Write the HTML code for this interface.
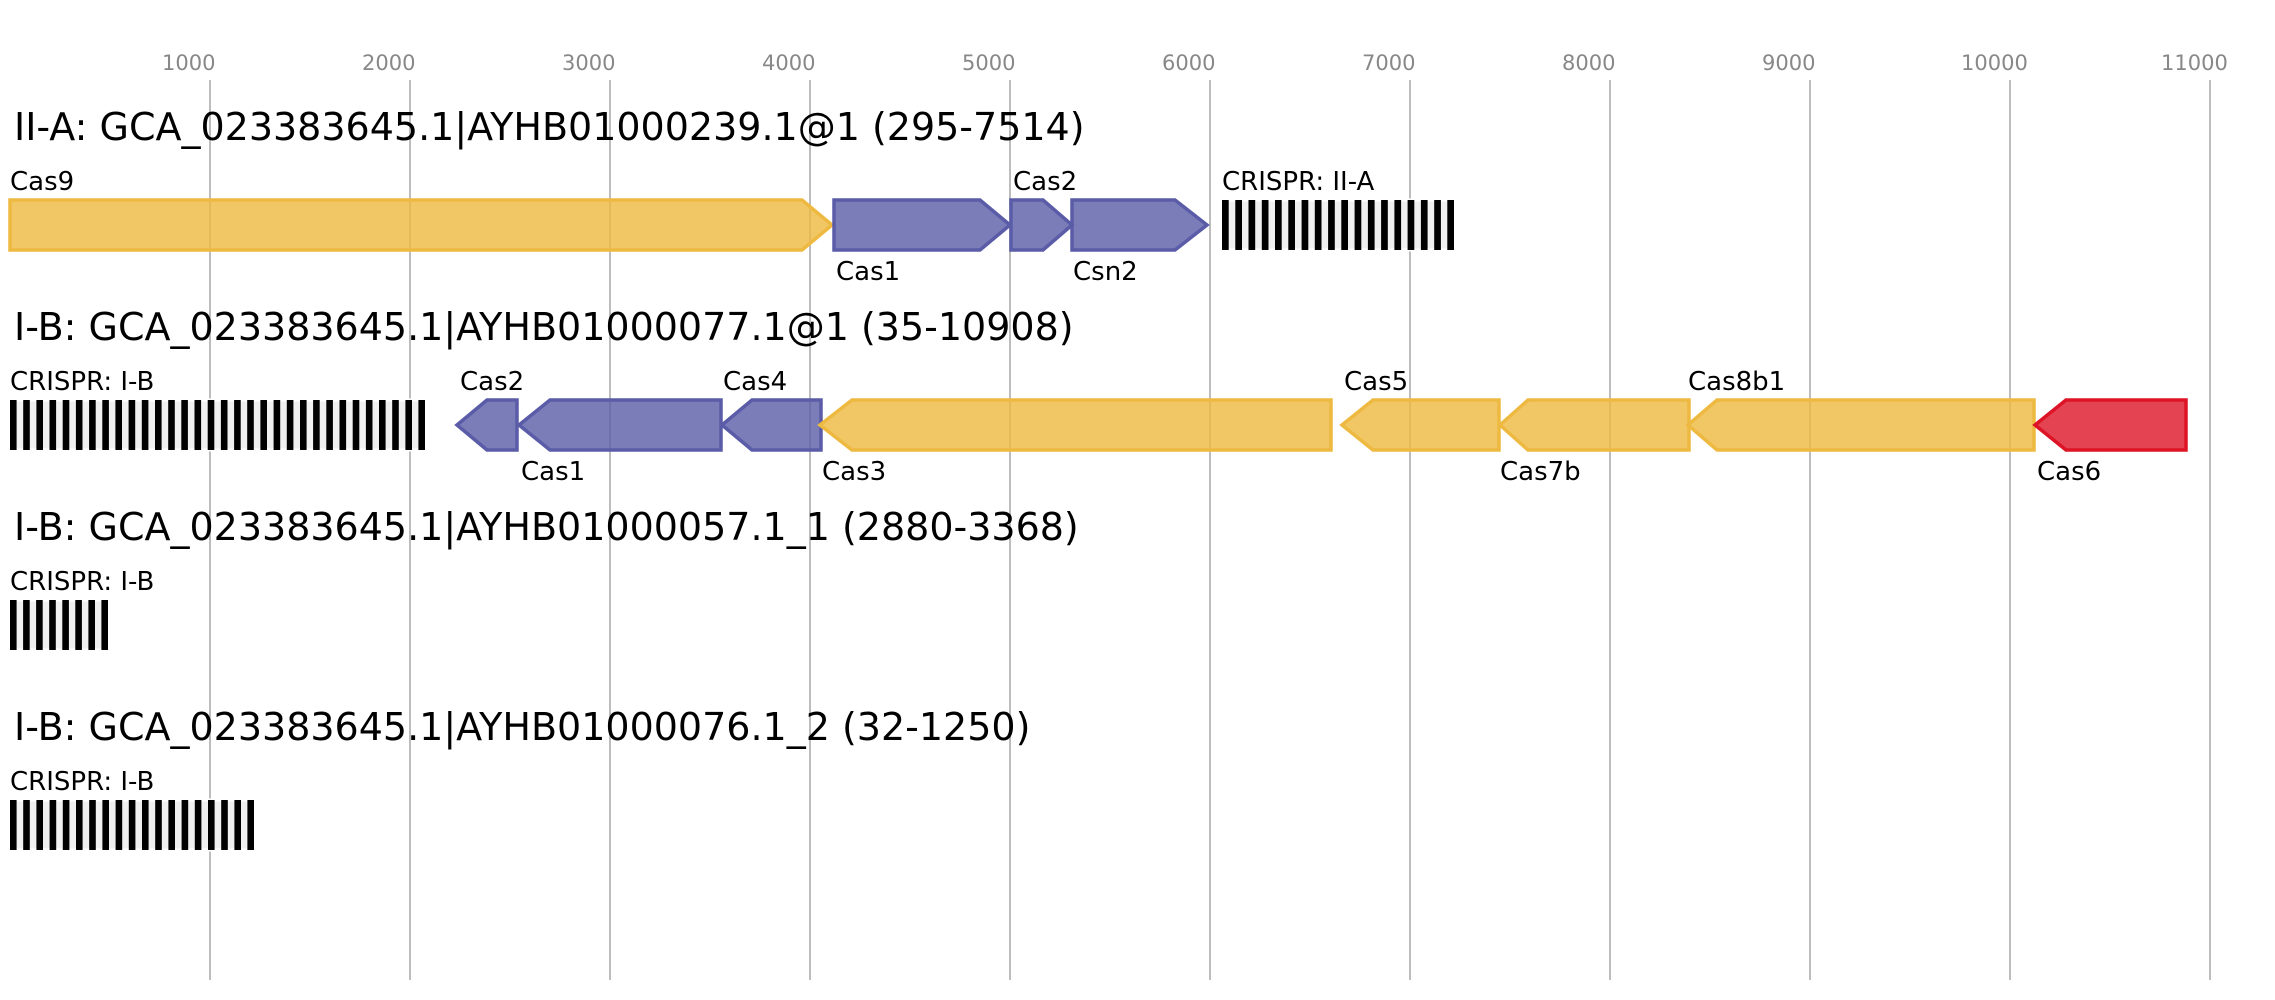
<!DOCTYPE html>
<html><head><meta charset="utf-8"><style>html,body{margin:0;padding:0;background:#fff}svg{display:block}</style></head>
<body>
<svg xmlns="http://www.w3.org/2000/svg" width="2275" height="1000" viewBox="0 0 2275 1000" font-family="'DejaVu Sans','Liberation Sans',sans-serif">
<rect width="2275" height="1000" fill="#fff"/>
<g stroke="#bdbdbd" stroke-width="2">
<line x1="210" y1="80" x2="210" y2="980"/><line x1="410" y1="80" x2="410" y2="980"/><line x1="610" y1="80" x2="610" y2="980"/><line x1="810" y1="80" x2="810" y2="980"/><line x1="1010" y1="80" x2="1010" y2="980"/><line x1="1210" y1="80" x2="1210" y2="980"/><line x1="1410" y1="80" x2="1410" y2="980"/><line x1="1610" y1="80" x2="1610" y2="980"/><line x1="1810" y1="80" x2="1810" y2="980"/><line x1="2010" y1="80" x2="2010" y2="980"/><line x1="2210" y1="80" x2="2210" y2="980"/>
</g>
<g fill="#888" font-size="21">
<text x="162" y="70">1000</text><text x="362" y="70">2000</text><text x="562" y="70">3000</text><text x="762" y="70">4000</text><text x="962" y="70">5000</text><text x="1162" y="70">6000</text><text x="1362" y="70">7000</text><text x="1562" y="70">8000</text><text x="1762" y="70">9000</text><text x="1961" y="70">10000</text><text x="2161" y="70">11000</text>
</g>
<g fill="#000" font-size="38">
<text x="14" y="140">II-A: GCA_023383645.1|AYHB01000239.1@1 (295-7514)</text>
<text x="14" y="340">I-B: GCA_023383645.1|AYHB01000077.1@1 (35-10908)</text>
<text x="14" y="540">I-B: GCA_023383645.1|AYHB01000057.1_1 (2880-3368)</text>
<text x="14" y="740">I-B: GCA_023383645.1|AYHB01000076.1_2 (32-1250)</text>
</g>
<g stroke-width="3.5" stroke-linejoin="miter">
<polygon points="10,200 802,200 832,225 802,250 10,250" fill="#eeb940" fill-opacity="0.8" stroke="#eeb940"/>
<polygon points="834,200 980,200 1010,225 980,250 834,250" fill="#5a5ca8" fill-opacity="0.8" stroke="#5a5ca8"/>
<polygon points="1011,200 1043,200 1072,225 1043,250 1011,250" fill="#5a5ca8" fill-opacity="0.8" stroke="#5a5ca8"/>
<polygon points="1072,200 1175,200 1207,225 1175,250 1072,250" fill="#5a5ca8" fill-opacity="0.8" stroke="#5a5ca8"/>
<polygon points="457,425 487,400 517,400 517,450 487,450" fill="#5a5ca8" fill-opacity="0.8" stroke="#5a5ca8"/>
<polygon points="519,425 550,400 721,400 721,450 550,450" fill="#5a5ca8" fill-opacity="0.8" stroke="#5a5ca8"/>
<polygon points="722,425 752,400 821,400 821,450 752,450" fill="#5a5ca8" fill-opacity="0.8" stroke="#5a5ca8"/>
<polygon points="820,425 852,400 1331,400 1331,450 852,450" fill="#eeb940" fill-opacity="0.8" stroke="#eeb940"/>
<polygon points="1342,425 1373,400 1499,400 1499,450 1373,450" fill="#eeb940" fill-opacity="0.8" stroke="#eeb940"/>
<polygon points="1500,425 1528,400 1689,400 1689,450 1528,450" fill="#eeb940" fill-opacity="0.8" stroke="#eeb940"/>
<polygon points="1688,425 1717,400 2034,400 2034,450 1717,450" fill="#eeb940" fill-opacity="0.8" stroke="#eeb940"/>
<polygon points="2035,425 2066,400 2186,400 2186,450 2066,450" fill="#dd1426" fill-opacity="0.8" stroke="#dd1426"/>
</g>
<g>
<rect x="1222" y="200" width="232" height="50" fill="#f0f0f0" stroke="#fff" stroke-width="3"/>
<rect x="10" y="400" width="415" height="50" fill="#f0f0f0" stroke="#fff" stroke-width="3"/>
<rect x="10" y="600" width="98" height="50" fill="#f0f0f0" stroke="#fff" stroke-width="3"/>
<rect x="10" y="800" width="244" height="50" fill="#f0f0f0" stroke="#fff" stroke-width="3"/>
</g>
<g fill="#000">
<rect x="1222" y="200" width="6.7" height="50"/><rect x="1235.3" y="200" width="6.7" height="50"/><rect x="1248.5" y="200" width="6.7" height="50"/><rect x="1261.8" y="200" width="6.7" height="50"/><rect x="1275" y="200" width="6.7" height="50"/><rect x="1288.3" y="200" width="6.7" height="50"/><rect x="1301.6" y="200" width="6.7" height="50"/><rect x="1314.8" y="200" width="6.7" height="50"/><rect x="1328.1" y="200" width="6.7" height="50"/><rect x="1341.3" y="200" width="6.7" height="50"/><rect x="1354.6" y="200" width="6.7" height="50"/><rect x="1367.9" y="200" width="6.7" height="50"/><rect x="1381.1" y="200" width="6.7" height="50"/><rect x="1394.4" y="200" width="6.7" height="50"/><rect x="1407.6" y="200" width="6.7" height="50"/><rect x="1420.9" y="200" width="6.7" height="50"/><rect x="1434.2" y="200" width="6.7" height="50"/><rect x="1447.3" y="200" width="6.7" height="50"/>
<rect x="10" y="400" width="6.6" height="50"/><rect x="23.2" y="400" width="6.6" height="50"/><rect x="36.4" y="400" width="6.6" height="50"/><rect x="49.5" y="400" width="6.6" height="50"/><rect x="62.7" y="400" width="6.6" height="50"/><rect x="75.9" y="400" width="6.6" height="50"/><rect x="89.1" y="400" width="6.6" height="50"/><rect x="102.3" y="400" width="6.6" height="50"/><rect x="115.4" y="400" width="6.6" height="50"/><rect x="128.6" y="400" width="6.6" height="50"/><rect x="141.8" y="400" width="6.6" height="50"/><rect x="155" y="400" width="6.6" height="50"/><rect x="168.2" y="400" width="6.6" height="50"/><rect x="181.3" y="400" width="6.6" height="50"/><rect x="194.5" y="400" width="6.6" height="50"/><rect x="207.7" y="400" width="6.6" height="50"/><rect x="220.9" y="400" width="6.6" height="50"/><rect x="234.1" y="400" width="6.6" height="50"/><rect x="247.2" y="400" width="6.6" height="50"/><rect x="260.4" y="400" width="6.6" height="50"/><rect x="273.6" y="400" width="6.6" height="50"/><rect x="286.8" y="400" width="6.6" height="50"/><rect x="300" y="400" width="6.6" height="50"/><rect x="313.1" y="400" width="6.6" height="50"/><rect x="326.3" y="400" width="6.6" height="50"/><rect x="339.5" y="400" width="6.6" height="50"/><rect x="352.7" y="400" width="6.6" height="50"/><rect x="365.9" y="400" width="6.6" height="50"/><rect x="379" y="400" width="6.6" height="50"/><rect x="392.2" y="400" width="6.6" height="50"/><rect x="405.4" y="400" width="6.6" height="50"/><rect x="418.4" y="400" width="6.6" height="50"/>
<rect x="10" y="600" width="6.6" height="50"/><rect x="23.1" y="600" width="6.6" height="50"/><rect x="36.1" y="600" width="6.6" height="50"/><rect x="49.2" y="600" width="6.6" height="50"/><rect x="62.3" y="600" width="6.6" height="50"/><rect x="75.3" y="600" width="6.6" height="50"/><rect x="88.4" y="600" width="6.6" height="50"/><rect x="101.4" y="600" width="6.6" height="50"/>
<rect x="10" y="800" width="6.6" height="50"/><rect x="23.2" y="800" width="6.6" height="50"/><rect x="36.4" y="800" width="6.6" height="50"/><rect x="49.6" y="800" width="6.6" height="50"/><rect x="62.8" y="800" width="6.6" height="50"/><rect x="76" y="800" width="6.6" height="50"/><rect x="89.2" y="800" width="6.6" height="50"/><rect x="102.4" y="800" width="6.6" height="50"/><rect x="115.6" y="800" width="6.6" height="50"/><rect x="128.8" y="800" width="6.6" height="50"/><rect x="142" y="800" width="6.6" height="50"/><rect x="155.2" y="800" width="6.6" height="50"/><rect x="168.4" y="800" width="6.6" height="50"/><rect x="181.6" y="800" width="6.6" height="50"/><rect x="194.8" y="800" width="6.6" height="50"/><rect x="208" y="800" width="6.6" height="50"/><rect x="221.2" y="800" width="6.6" height="50"/><rect x="234.4" y="800" width="6.6" height="50"/><rect x="247.4" y="800" width="6.6" height="50"/>
</g>
<g fill="#000" font-size="26">
<text x="10" y="190">Cas9</text>
<text x="836" y="280">Cas1</text>
<text x="1013" y="190">Cas2</text>
<text x="1073" y="280">Csn2</text>
<text x="1222" y="190">CRISPR: II-A</text>
<text x="10" y="390">CRISPR: I-B</text>
<text x="460" y="390">Cas2</text>
<text x="521" y="480">Cas1</text>
<text x="723" y="390">Cas4</text>
<text x="822" y="480">Cas3</text>
<text x="1344" y="390">Cas5</text>
<text x="1500" y="480">Cas7b</text>
<text x="1688" y="390">Cas8b1</text>
<text x="2037" y="480">Cas6</text>
<text x="10" y="590">CRISPR: I-B</text>
<text x="10" y="790">CRISPR: I-B</text>
</g>
</svg>
</body></html>
